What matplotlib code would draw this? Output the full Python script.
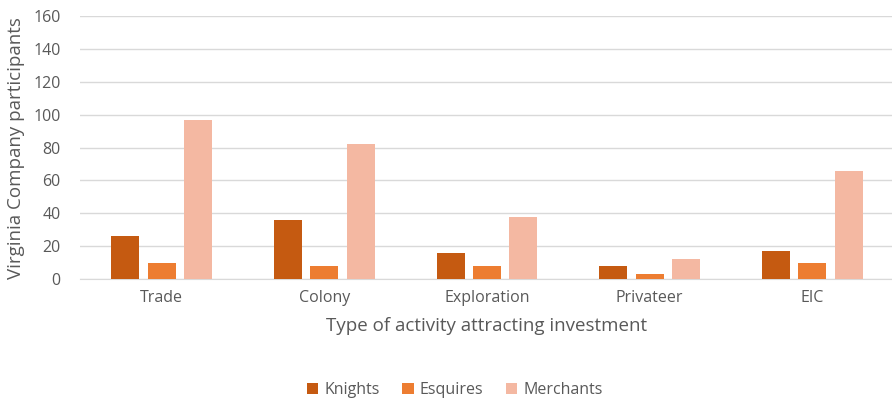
import numpy as np
import matplotlib
matplotlib.use('Agg')
import matplotlib.pyplot as plt

categories = ['Trade', 'Colony', 'Exploration', 'Privateer', 'EIC']
knights = [26, 36, 16, 8, 17]
esquires = [10, 8, 8, 3, 10]
merchants = [97, 82, 38, 12, 66]

plt.rcParams['font.family'] = ['Open Sans', 'DejaVu Sans']
text_color = '#595959'

fig = plt.figure(figsize=(8.92, 4.01), dpi=100)
ax = fig.add_axes([0.09, 0.304, 0.912, 0.656])

x = np.arange(len(categories))
w = 0.172
step = 0.224
ax.bar(x - step, knights, w, color='#C55A11', label='Knights', zorder=3)
ax.bar(x, esquires, w, color='#ED7D31', label='Esquires', zorder=3)
ax.bar(x + step, merchants, w, color='#F4B8A2', label='Merchants', zorder=3)

ax.set_xlim(-0.5, len(categories) - 0.5)
ax.set_ylim(0, 160)
ax.set_yticks(range(0, 161, 20))
ax.set_xticks(x)
ax.set_xticklabels(categories)
ax.yaxis.grid(True, color='#D9D9D9', linewidth=1, zorder=0)
ax.tick_params(axis='y', length=0, labelsize=11.5, colors=text_color, pad=14)
ax.tick_params(axis='x', length=0, labelsize=11.5, colors=text_color, pad=8)
for side in ['top', 'right', 'left']:
    ax.spines[side].set_visible(False)
ax.spines['bottom'].set_color('#D9D9D9')

ax.set_ylabel('Virginia Company participants', fontsize=13.5, color=text_color, labelpad=6)
ax.set_xlabel('Type of activity attracting investment', fontsize=13.5, color=text_color, labelpad=8)

fig.legend(loc='center', bbox_to_anchor=(0.51, 0.027), ncol=3, frameon=False,
           fontsize=11.5, handlelength=0.7, handleheight=0.7, handletextpad=0.4,
           columnspacing=1.4, labelcolor=text_color)

fig.savefig('out.png', dpi=100)
